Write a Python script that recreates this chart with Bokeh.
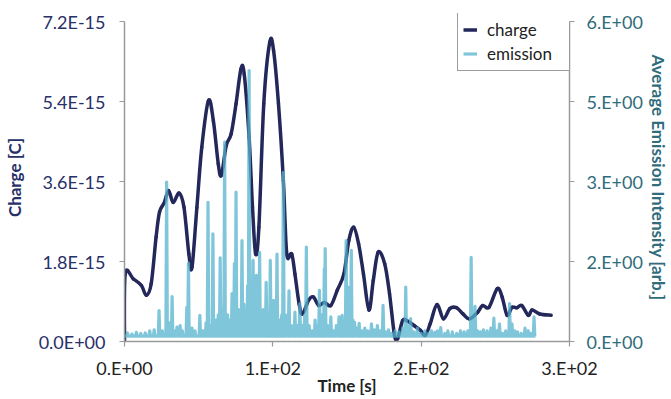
from bokeh.plotting import figure
from bokeh.models import Range1d, LinearAxis, FixedTicker, Legend, LegendItem
from bokeh.embed import file_html
from bokeh.resources import INLINE

# ---------------- data ----------------
# charge in units of 1e-15 C
charge_time = [0, 0.5, 5.9, 11.4, 14.7, 18.0, 21.3, 23.6, 26.9, 29.7, 32.8, 36.8, 40.1, 43.4, 45.5,
               48.8, 52.1, 56.6, 59.9, 63.2, 65.3, 68.6, 71.9, 75.2, 78.5, 80.7, 84.0, 86.3, 88.4,
               90.6, 93.9, 97.9, 100.5, 103.8, 107.1, 109.4, 112.7, 114.9, 117.7, 119.9, 124.3,
               127.4, 130.9, 134.7, 139.1, 143.4, 147.9, 151.2, 154.5, 157.8, 161.1, 164.8, 167.7,
               171.0, 175.4, 178.7, 182.0, 184.2, 187.5, 190.8, 195.2, 199.5, 202.8, 206.1, 210.6,
               215.0, 219.3, 223.8, 228.2, 232.5, 238.1, 241.4, 245.7, 251.3, 254.6, 257.9, 261.2,
               264.5, 267.8, 272.2, 274.8, 279.9, 287.6]
charge_value = [0.0, 1.52, 1.41, 1.26, 1.04, 1.30, 2.35, 2.91, 3.13, 3.40, 3.13, 3.34, 3.02, 1.97, 1.67,
                3.02, 4.37, 5.42, 4.97, 4.00, 3.74, 4.41, 4.67, 5.35, 6.13, 6.02, 4.60, 3.02, 1.97,
                2.57, 5.35, 6.73, 6.55, 5.35, 3.62, 1.97, 1.97, 1.52, 0.85, 0.62, 0.94,
                1.00, 0.81, 0.88, 0.81, 1.15, 1.52, 2.27, 2.57, 2.20, 1.52, 0.71, 1.37,
                2.01, 1.75, 1.07, 0.14, 0.07, 0.47, 0.46, 0.36, 0.25, 0.14, 0.40, 0.83,
                0.51, 0.74, 0.76, 0.62, 0.51, 0.66, 0.81, 0.77, 1.19, 1.00, 0.59, 0.77,
                0.76, 0.81, 0.59, 0.71, 0.62, 0.59]

emission_floor = 0.1
emission_spike_time = [2, 5, 8, 11, 14, 17, 20, 23.3, 25.5, 28.4, 30.2, 32.1, 33.5, 35.4, 37.5, 39,
                       42.0, 43.1, 45.5, 47.5, 50.8, 53, 55, 56.3, 58, 59.6, 61.5, 63.2, 64.5, 66.2,
                       67.5, 69.5, 71, 72.5, 74.1, 75.2, 76.8, 78, 79.2, 80.5, 81.8, 83.0, 84.0, 85.3,
                       86.7, 87.8, 88.9, 90, 91.1, 92.5, 93.5, 95.5, 96.8, 98.3, 99.4, 100.5, 101.6,
                       102.8, 104.5, 106, 107.1, 108.5, 109.8, 110.9, 112.5, 114.9, 116.5, 118.2,
                       120, 121.5, 122.6, 124.5, 126.5, 128.5, 130, 131.4, 133, 134.7, 135.3, 137,
                       139.1, 141, 142.8, 144.6, 146.7, 149.4, 150.7, 152.9, 154, 155.1, 156.5,
                       158.2, 160, 162, 164, 166.5, 168.5, 170.5, 172.5, 174.3, 176, 178, 180,
                       182.5, 185, 187.5, 189.6, 191, 192.9, 195, 197.5, 200, 202.5, 205, 207,
                       209.4, 211, 213.2, 216, 218, 221, 224, 226.5, 229, 231.5, 233.7, 235, 236.3,
                       238, 240, 242, 244.5, 247, 249.0, 251, 252.8, 255, 257, 259.6, 261.2, 263,
                       265, 267.5, 270, 272.2, 274, 276.1]
emission_spike_value = [0.16, 0.14, 0.17, 0.15, 0.16, 0.2, 0.22, 0.58, 0.2, 2.99, 0.35, 0.84, 0.2, 0.27, 0.3, 0.2,
                        0.64, 1.47, 0.25, 0.2, 0.49, 0.2, 0.35, 2.61, 0.3, 2.02, 0.4, 0.5, 1.57, 0.6,
                        3.74, 0.5, 0.4, 0.9, 1.46, 2.80, 0.6, 0.5, 1.89, 0.7, 0.5, 1.05, 5.08, 0.6,
                        1.52, 0.7, 1.24, 0.5, 1.67, 0.4, 0.6, 1.11, 0.5, 1.52, 0.4, 0.77, 0.5,
                        1.64, 0.4, 0.5, 3.17, 0.5, 0.3, 0.95, 0.3, 0.55, 0.3, 0.71,
                        0.3, 0.5, 1.77, 0.3, 0.2, 0.4, 0.3, 0.96, 0.5, 1.36, 1.74, 0.3,
                        0.46, 0.2, 0.3, 0.46, 0.49, 1.89, 1.02, 1.71, 0.4, 0.36, 0.25,
                        0.34, 0.2, 0.25, 0.2, 0.33, 0.22, 0.30, 0.2, 0.68, 0.18, 0.22, 0.15,
                        0.2, 0.18, 0.25, 1.02, 0.3, 0.43, 0.18, 0.25, 0.15, 0.2, 0.15, 0.2,
                        0.17, 0.2, 0.26, 0.15, 0.2, 0.18, 0.15, 0.2, 0.18, 0.2, 1.58, 0.5, 0.66,
                        0.2, 0.18, 0.22, 0.2, 0.25, 0.44, 0.2, 0.33, 0.15, 0.2, 0.71, 0.33, 0.2,
                        0.18, 0.15, 0.25, 0.2, 0.15, 0.46]

time_ticks = [0, 100, 200, 300]
time_tick_labels = ["0.E+00", "1.E+02", "2.E+02", "3.E+02"]
charge_ticks = [0, 1.8, 3.6, 5.4, 7.2]
charge_tick_labels = ["0.0E+00", "1.8E-15", "3.6E-15", "5.4E-15", "7.2E-15"]
emission_ticks = [0, 1.5, 3, 4.5, 6]
emission_tick_labels = ["0.E+00", "2.E+00", "3.E+00", "5.E+00", "6.E+00"]
charge_max = 7.2
emission_max = 6.0
time_max = 300

# ---------------- styles ----------------
FONT = "Lato"
FS = "18px"
FS_TITLE = "17px"
NAVY = "#23275a"
NAVY_TXT = "#283068"
TEAL_TXT = "#2f6c7c"
EM_COLOR = "#55b3cd"
AXIS_GRAY = "#9a9a9a"

# frame: top at 13 px (room for legend), axis top ticks at 21 px, bottom at 341 px
HEADROOM = 328.0 / 320.0

# emission polyline from spike list
em_x = [0.0]
em_y = [emission_floor]
for t, h in zip(emission_spike_time, emission_spike_value):
    em_x += [t - 0.5, t, t + 0.5]
    em_y += [emission_floor, h, emission_floor]
em_x.append(emission_spike_time[-1] + 1.0)
em_y.append(emission_floor)

# smoothed (Catmull-Rom -> cubic Bezier) rendering of the charge line, like Excel's smoothed line
n = len(charge_time)
bx0, by0, bx1, by1, cx0, cy0, cx1, cy1 = [], [], [], [], [], [], [], []
for i in range(n - 1):
    p0 = (charge_time[max(i - 1, 0)], charge_value[max(i - 1, 0)])
    p1 = (charge_time[i], charge_value[i])
    p2 = (charge_time[i + 1], charge_value[i + 1])
    p3 = (charge_time[min(i + 2, n - 1)], charge_value[min(i + 2, n - 1)])
    bx0.append(p1[0]); by0.append(p1[1])
    bx1.append(p2[0]); by1.append(p2[1])
    cx0.append(p1[0] + (p2[0] - p0[0]) / 6.0); cy0.append(p1[1] + (p2[1] - p0[1]) / 6.0)
    cx1.append(p2[0] - (p3[0] - p1[0]) / 6.0); cy1.append(p2[1] - (p3[1] - p1[1]) / 6.0)

p = figure(width=671, height=399, output_backend="svg", toolbar_location=None,
           x_range=Range1d(0, time_max), y_range=Range1d(0, charge_max * HEADROOM),
           min_border_left=121, min_border_right=95, min_border_top=13, min_border_bottom=58)
p.extra_y_ranges = {"em": Range1d(0, emission_max * HEADROOM)}
p.grid.visible = False
p.outline_line_color = None
p.background_fill_color = "white"
p.border_fill_color = "white"

def style_axis(ax, label_color, title_color):
    ax.axis_line_color = AXIS_GRAY
    ax.axis_line_width = 1.5
    ax.major_tick_line_color = AXIS_GRAY
    ax.major_tick_line_width = 1.2
    ax.major_tick_in = 0
    ax.major_tick_out = 5
    ax.minor_tick_line_color = None
    ax.major_label_text_font = FONT
    ax.major_label_text_font_size = FS
    ax.major_label_text_color = label_color
    ax.axis_label_text_font = FONT
    ax.axis_label_text_font_size = FS_TITLE
    ax.axis_label_text_font_style = "bold"
    ax.axis_label_text_color = title_color

xa = p.xaxis[0]
xa.ticker = FixedTicker(ticks=time_ticks)
xa.major_label_overrides = dict(zip(time_ticks, time_tick_labels))
xa.axis_label = "Time [s]"
style_axis(xa, "#222222", "#222222")
xa.major_label_standoff = 10
xa.axis_label_standoff = -7

ya = p.yaxis[0]
ya.ticker = FixedTicker(ticks=charge_ticks)
ya.bounds = (0, charge_max)
ya.major_label_overrides = dict(zip(charge_ticks, charge_tick_labels))
ya.axis_label = "Charge [C]"
style_axis(ya, NAVY_TXT, NAVY_TXT)
ya.major_label_standoff = 14
ya.axis_label_standoff = 11

ra = LinearAxis(y_range_name="em", ticker=FixedTicker(ticks=emission_ticks),
                axis_label="Average Emission Intensity [arb.]", bounds=(0, emission_max))
ra.major_label_overrides = dict(zip(emission_ticks, emission_tick_labels))
style_axis(ra, TEAL_TXT, TEAL_TXT)
ra.major_label_standoff = 12
ra.axis_label_standoff = 2
p.add_layout(ra, "right")

p.bezier(x0=bx0, y0=by0, x1=bx1, y1=by1, cx0=cx0, cy0=cy0, cx1=cx1, cy1=cy1,
         line_color=NAVY, line_width=3.5, line_cap="round")
r_em = p.line(em_x, em_y, y_range_name="em", line_color=EM_COLOR, line_width=3.2,
              line_alpha=0.75, line_join="round")
# legend key renderer for the charge series (a single point draws no visible segment)
r_charge_key = p.line(x=charge_time[:1], y=charge_value[:1], line_color=NAVY, line_width=3.5)

legend = Legend(items=[LegendItem(label="charge", renderers=[r_charge_key]),
                       LegendItem(label="emission", renderers=[r_em])],
                location=(333, 270), orientation="vertical")
legend.label_text_font = FONT
legend.label_text_font_size = "17px"
legend.label_text_color = "#222222"
legend.glyph_width = 14
legend.glyph_height = 23
legend.label_height = 23
legend.label_width = 80
legend.label_standoff = 10
legend.spacing = 1
legend.padding = 5
legend.margin = 0
legend.border_line_color = "#3c3c3c"
legend.border_line_width = 1
legend.background_fill_color = "white"
legend.background_fill_alpha = 1
p.add_layout(legend, "center")

open("out.html", "w").write(file_html(p, INLINE))
